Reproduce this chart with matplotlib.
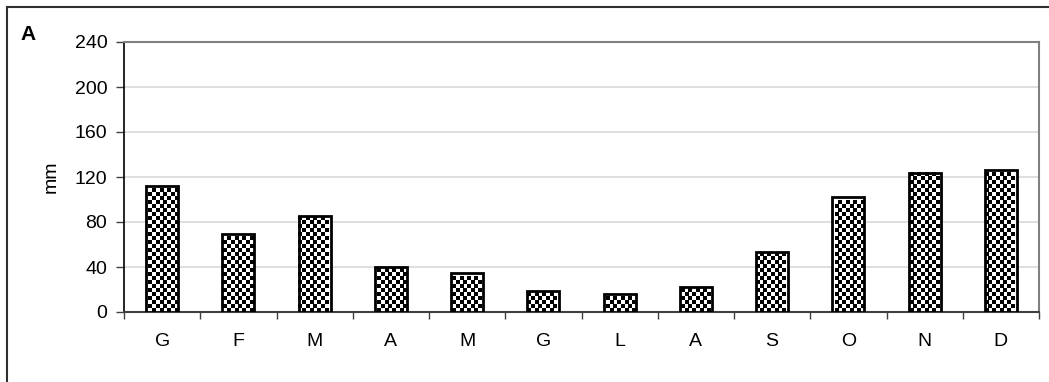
import matplotlib
matplotlib.use("Agg")
import matplotlib.pyplot as plt
from matplotlib.lines import Line2D
import numpy as np

# === Dati ===
months = ["G", "F", "M", "A", "M", "G", "L", "A", "S", "O", "N", "D"]
rain_mm = [112, 69, 85, 40, 35, 19, 16, 22, 53, 102, 124, 126]
y_ticks = [0, 40, 80, 120, 160, 200, 240]

# trama a puntini (in pixel)
DOT_DX = 7.5
DOT_DY = 4.0
DOT_SIZE = 5.5  # punti^2

plt.rcParams["font.family"] = ["Liberation Sans", "DejaVu Sans"]

W, H = 1049, 382
fig = plt.figure(figsize=(W / 100, H / 100), dpi=100)
ax = fig.add_axes([124 / W, 1 - 312 / H, (1039 - 124) / W, (312 - 42) / H])

x = np.arange(len(months))
bars = ax.bar(x, rain_mm, width=0.42, color="white", edgecolor="black",
              linewidth=2, zorder=3)

ax.set_xlim(-0.5, len(months) - 0.5)
ax.set_ylim(0, 240)

# === Trama puntinata dentro le barre
ax0, ay0, ax1, ay1 = ax.bbox.extents
pts = []
for j, yy in enumerate(np.arange(ay0 + 2, ay1, DOT_DY)):
    xs = np.arange(ax0 + (DOT_DX / 2 if j % 2 else 0), ax1, DOT_DX)
    for b in bars:
        bx0, by0, bx1, by1 = b.get_window_extent().extents
        if by0 + 1.5 <= yy <= by1 - 1.5:
            sel = xs[(xs >= bx0 + 1.5) & (xs <= bx1 - 1.5)]
            pts.extend((xx, yy) for xx in sel)
pts = ax.transData.inverted().transform(np.array(pts))
ax.scatter(pts[:, 0], pts[:, 1], s=DOT_SIZE, marker="s", color="black",
           linewidths=0, zorder=4)

ax.set_yticks(y_ticks)
ax.set_xticks(x)
ax.set_xticklabels(months)
ax.set_xticks(np.arange(-0.5, len(months)), minor=True)
ax.tick_params(axis="x", which="major", length=0, pad=15, labelsize=14)
ax.tick_params(axis="x", which="minor", length=5, width=1, color="#404040")
ax.tick_params(axis="y", length=6, width=1, color="#404040", labelsize=14, pad=6)
ax.yaxis.grid(True, color="#d9d9d9", linewidth=1.2, zorder=0)
ax.set_axisbelow(True)

for side in ["top", "right"]:
    ax.spines[side].set_color("#808080")
    ax.spines[side].set_linewidth(1.5)
ax.spines["left"].set_color("black")
ax.spines["bottom"].set_color("#404040")
ax.spines["left"].set_linewidth(1.2)
ax.spines["bottom"].set_linewidth(1.5)

ax.set_ylabel("mm", fontsize=14, labelpad=11)

# lettera del pannello e cornice
fig.text(20 / W, 1 - 40 / H, "A", fontsize=15, fontweight="bold", va="baseline")
fig.add_artist(Line2D([7 / W, 7 / W], [0, 1 - 7 / H], color="#303030", linewidth=1.5))
fig.add_artist(Line2D([7 / W, 1], [1 - 7 / H, 1 - 7 / H], color="#303030", linewidth=1.5))

fig.savefig("out.png", dpi=100)
